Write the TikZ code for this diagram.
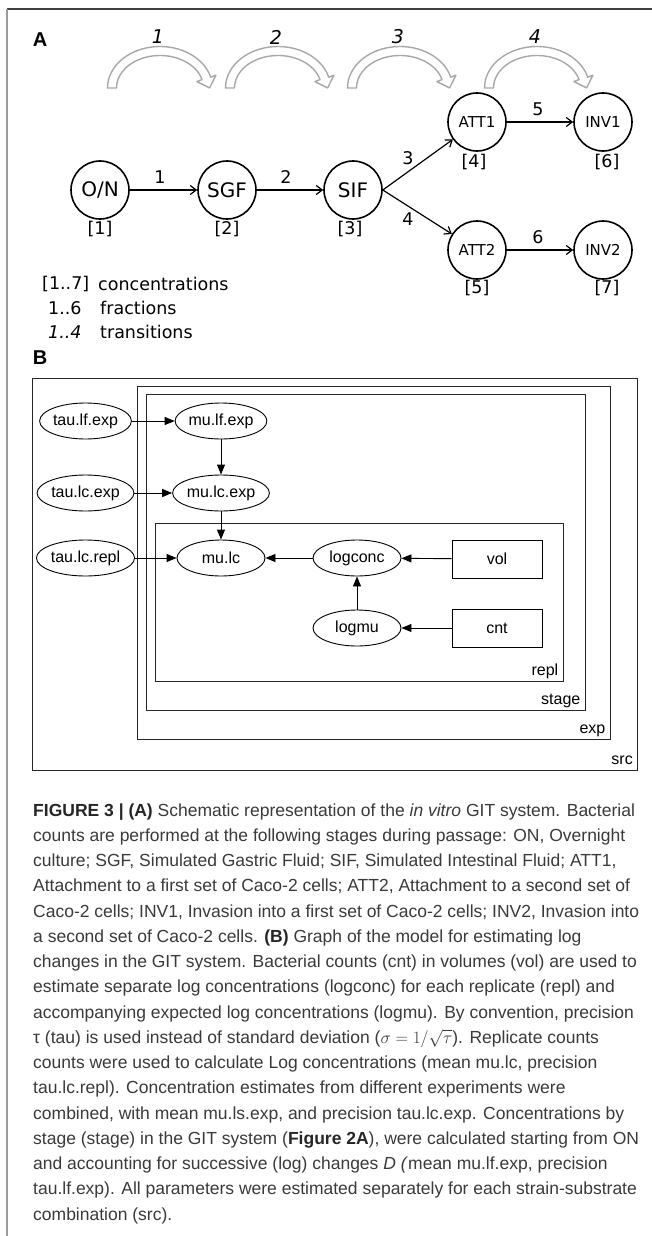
\documentclass[tikz,border=0pt]{standalone}
\usepackage{fontspec}
\setmainfont{Liberation Sans}
\newfontfamily\dvs{DejaVu Sans}
\usetikzlibrary{arrows.meta,shapes.geometric,calc}
\definecolor{turncol}{HTML}{A8A8A8}
\definecolor{captcol}{HTML}{3A3A3A}
\begin{document}
\begin{tikzpicture}[x=1pt,y=-1pt,
  pcirc/.style={circle,draw,line width=1.6pt,minimum size=58pt,inner sep=0pt,font=\dvs\fontsize{20}{22}\selectfont},
  psmall/.style={pcirc,font=\dvs\fontsize{15}{17}\selectfont},
  bnum/.style={inner sep=0pt,font=\dvs\fontsize{17.5}{19}\selectfont},
  elab/.style={inner sep=1pt,font=\dvs\fontsize{17.5}{19}\selectfont},
  tlab/.style={inner sep=0pt,font=\dvs\itshape\fontsize{19}{21}\selectfont},
  aedge/.style={line width=1.2pt,-{Straight Barb[length=6pt,width=9pt,line width=1.2pt]}},
  turn/.style={draw=turncol,line width=1.4pt,line join=round,fill=white},
  panlab/.style={inner sep=0pt,font=\bfseries\fontsize{20}{22}\selectfont},
  bell/.style={ellipse,draw,line width=0.9pt,minimum width=88pt,minimum height=36pt,inner sep=0pt,font=\fontsize{16}{18}\selectfont},
  bbox/.style={rectangle,draw,line width=0.9pt,minimum width=90pt,minimum height=38pt,inner sep=0pt,font=\fontsize{16}{18}\selectfont},
  bedge/.style={line width=0.9pt,-{Triangle[length=10pt,width=8pt]}},
  plate/.style={rectangle,draw=black!85,line width=1pt,inner sep=0pt},
  platelab/.style={inner sep=0pt,anchor=base east,font=\fontsize{16}{18}\selectfont},
  capline/.style={inner sep=0pt,anchor=base west,text=captcol,font=\fontsize{17.5}{24}\selectfont},
  turnarrow/.pic={
    \draw[turn] (107.5,88)
      -- plot[domain=0:1,samples=40,variable=\t] ({160+52.5*cos(180-165*\t)},{88-41.5*sin(180-165*\t)})
      -- (215.9,75.2) -- (209.6,87.9) -- (196.9,81.6)
      -- plot[domain=0:1,samples=40,variable=\t] ({160+43.5*cos(15+165*\t)},{88-32.5*sin(15+165*\t)})
      -- cycle;
  }
]
\useasboundingbox (0,0) rectangle (652,1236);
\fill[white] (0,0) rectangle (652,1236);
% frame
\draw[black!75,line width=1.8pt] (7,9) -- (652,9);
\draw[black!40,line width=1.2pt] (7,9) -- (7,1236);

% ---------- Panel A ----------
\node[panlab] (pa) at (40,40) {A};
\pic at (0,0) {turnarrow};
\pic at (118,0) {turnarrow};
\pic at (240,0) {turnarrow};
\pic at (377,0) {turnarrow};
\node[tlab] (t1) at (158,37) {1};
\node[tlab] (t2) at (276,37) {2};
\node[tlab] (t3) at (398,37) {3};
\node[tlab] (t4) at (535,37) {4};

\node[pcirc] (on) at (100,190) {O/N};
\node[pcirc] (sgf) at (227,190) {SGF};
\node[pcirc] (sif) at (353,190) {SIF};
\node[psmall] (att1) at (477,122) {ATT1};
\node[psmall] (inv1) at (603,122) {INV1};
\node[psmall] (att2) at (477,250) {ATT2};
\node[psmall] (inv2) at (603,250) {INV2};

\node[bnum] (c1) at (100,229) {[1]};
\node[bnum] (c2) at (227,229) {[2]};
\node[bnum] (c3) at (350,229) {[3]};
\node[bnum] (c4) at (474,162) {[4]};
\node[bnum] (c6) at (607,162) {[6]};
\node[bnum] (c5) at (477,288) {[5]};
\node[bnum] (c7) at (607,288) {[7]};

\draw[aedge] (on) -- (sgf);
\draw[aedge] (sgf) -- (sif);
\draw[aedge] (sif.east) -- (att1);
\draw[aedge] (sif.east) -- (att2);
\draw[aedge] (att1) -- (inv1);
\draw[aedge] (att2) -- (inv2);
\node[elab] (f1) at (160,177) {1};
\node[elab] (f2) at (286,177) {2};
\node[elab] (f3) at (408,158) {3};
\node[elab] (f4) at (408,219) {4};
\node[elab] (f5) at (538,109) {5};
\node[elab] (f6) at (538,237) {6};

% legend
\node[bnum,anchor=west] (lg1a) at (42,284) {[1..7]};
\node[bnum,anchor=west] (lg1b) at (98,284) {concentrations};
\node[bnum,anchor=west] (lg2a) at (48,308) {1..6};
\node[bnum,anchor=west] (lg2b) at (100,308) {fractions};
\node[bnum,anchor=west,font=\dvs\itshape\fontsize{17.5}{19}\selectfont] (lg3a) at (48,332) {1..4};
\node[bnum,anchor=west] (lg3b) at (100,332) {transitions};

% ---------- Panel B ----------
\node[panlab] (pb) at (40,358) {B};
\node[plate,minimum width=605pt,minimum height=392pt] (src) at (335,574) {};
\node[plate,minimum width=472.5pt,minimum height=353pt] (exp) at (373.75,562.5) {};
\node[plate,minimum width=439pt,minimum height=316pt] (stg) at (365.5,552) {};
\node[plate,minimum width=408pt,minimum height=158pt] (repl) at (359,602) {};
\node[platelab] (lsrc) at ($(src.south east)+(-5,-6)$) {src};
\node[platelab] (lexp) at ($(exp.south east)+(-5,-6)$) {exp};
\node[platelab] (lstg) at ($(stg.south east)+(-5,-6)$) {stage};
\node[platelab] (lrepl) at ($(repl.south east)+(-5,-6)$) {repl};

\node[bell] (tlf) at (85.5,421) {tau.lf.exp};
\node[bell] (mlf) at (221,421) {mu.lf.exp};
\node[bell] (tlc) at (85.5,493) {tau.lc.exp};
\node[bell] (mlce) at (221,493) {mu.lc.exp};
\node[bell] (tlr) at (85.5,558) {tau.lc.repl};
\node[bell] (mlc) at (221,558) {mu.lc};
\node[bell] (lcc) at (357,558) {logconc};
\node[bbox] (vol) at (497,559) {vol};
\node[bell] (lmu) at (357,628) {logmu};
\node[bbox] (cnt) at (497,628) {cnt};

\draw[bedge] (tlf) -- (mlf);
\draw[bedge] (mlf) -- (mlce);
\draw[bedge] (tlc) -- (mlce);
\draw[bedge] (mlce) -- (mlc);
\draw[bedge] (tlr) -- (mlc);
\draw[bedge] (lcc) -- (mlc);
\draw[bedge] (vol) -- (lcc);
\draw[bedge] (lmu) -- (lcc);
\draw[bedge] (cnt) -- (lmu);

% ---------- Caption ----------
\node[capline] (k1) at (33,816) {\textbf{\color{black!85}FIGURE 3 | (A)} Schematic representation of the \textit{in vitro} GIT system. Bacterial};
\node[capline] (k2) at (33,841.25) {counts are performed at the following stages during passage: ON, Overnight};
\node[capline] (k3) at (33,866.5) {culture; SGF, Simulated Gastric Fluid; SIF, Simulated Intestinal Fluid; ATT1,};
\node[capline] (k4) at (33,891.75) {Attachment to a first set of Caco-2 cells; ATT2, Attachment to a second set of};
\node[capline] (k5) at (33,917) {Caco-2 cells; INV1, Invasion into a first set of Caco-2 cells; INV2, Invasion into};
\node[capline] (k6) at (33,942.25) {a second set of Caco-2 cells. \textbf{\color{black!85}(B)} Graph of the model for estimating log};
\node[capline] (k7) at (33,967.5) {changes in the GIT system. Bacterial counts (cnt) in volumes (vol) are used to};
\node[capline] (k8) at (33,992.75) {estimate separate log concentrations (logconc) for each replicate (repl) and};
\node[capline] (k9) at (33,1018) {accompanying expected log concentrations (logmu). By convention, precision};
\node[capline] (k10) at (33,1043.25) {τ (tau) is used instead of standard deviation (\smash{$\sigma = 1/\sqrt{\tau}$}). Replicate counts};
\node[capline] (k11) at (33,1068.5) {counts were used to calculate Log concentrations (mean mu.lc, precision};
\node[capline] (k12) at (33,1093.75) {tau.lc.repl). Concentration estimates from different experiments were};
\node[capline] (k13) at (33,1119) {combined, with mean mu.ls.exp, and precision tau.lc.exp. Concentrations by};
\node[capline] (k14) at (33,1144.25) {stage (stage) in the GIT system (\textbf{\color{black!85}Figure 2A}), were calculated starting from ON};
\node[capline] (k15) at (33,1169.5) {and accounting for successive (log) changes \textit{D (}mean mu.lf.exp, precision};
\node[capline] (k16) at (33,1194.75) {tau.lf.exp). All parameters were estimated separately for each strain-substrate};
\node[capline] (k17) at (33,1220) {combination (src).};
\end{tikzpicture}
\end{document}
